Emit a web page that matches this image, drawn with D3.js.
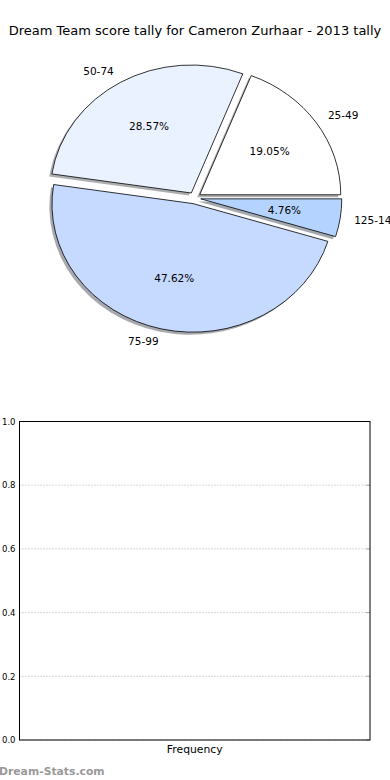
<!DOCTYPE html>
<html lang="en">
<head>
    <meta charset="UTF-8">
    <title>Dream Team score tally</title>
    <script src="https://d3js.org/d3.v7.min.js"></script>
    <style>
        body { margin: 0; background: #fff; }
        svg text { font-family: "DejaVu Sans", sans-serif; fill: #000; }
        .grid line { stroke: #b0b0b0; stroke-dasharray: 1,2; }
    </style>
</head>
<body>
    <svg width="390" height="780"></svg>

    <script>
        // score ranges, counts (share of games) and slice colours
        const ranges = ["25-49", "50-74", "75-99", "125-149"];
        const counts = [4, 6, 10, 1];
        const colours = ["#ffffff", "#ebf2ff", "#c6d9ff", "#b4d4ff"];
        const yTicks = [0.0, 0.2, 0.4, 0.6, 0.8, 1.0];

        const svg = d3.select("svg");

        svg.append("text")
            .attr("x", 195).attr("y", 35)
            .attr("text-anchor", "middle")
            .style("font-size", "13px")
            .text("Dream Team score tally for Cameron Zurhaar - 2013 tally");

        // pie: starts at 3 o'clock and runs counter-clockwise, like matplotlib
        const cx = 194.5, cy = 198, rx = 141, ry = 128, explode = 0.045;
        const total = d3.sum(counts);
        const pie = d3.pie().sort(null)
            .startAngle(Math.PI / 2).endAngle(Math.PI / 2 - 2 * Math.PI);
        const arcs = pie(counts);
        const arc = d3.arc().innerRadius(0).outerRadius(1);

        const offs = arcs.map(a => {
            const m = (a.startAngle + a.endAngle) / 2;
            return { m, x: cx + explode * rx * Math.sin(m), y: cy - explode * ry * Math.cos(m) };
        });

        const g = svg.append("g");
        // shadows first
        g.selectAll(".shadow").data(arcs).enter().append("path")
            .attr("transform", (d, i) => `translate(${offs[i].x - 2.6},${offs[i].y + 2.6}) scale(${rx},${ry})`)
            .attr("d", arc)
            .attr("fill", (d, i) => {
                const c = d3.rgb(colours[i]);
                return `rgba(${c.r * 0.3},${c.g * 0.3},${c.b * 0.3},0.45)`;
            });

        g.selectAll(".wedge").data(arcs).enter().append("path")
            .attr("transform", (d, i) => `translate(${offs[i].x},${offs[i].y}) scale(${rx},${ry})`)
            .attr("d", arc)
            .attr("fill", (d, i) => colours[i])
            .attr("stroke", "#000")
            .attr("stroke-width", 0.8)
            .attr("vector-effect", "non-scaling-stroke");

        // range labels at 1.1 radius
        g.selectAll(".lbl").data(arcs).enter().append("text")
            .attr("x", (d, i) => offs[i].x + 1.1 * rx * Math.sin(offs[i].m))
            .attr("y", (d, i) => offs[i].y - 1.1 * ry * Math.cos(offs[i].m))
            .attr("dy", "0.35em")
            .attr("text-anchor", (d, i) => Math.sin(offs[i].m) > 0 ? "start" : "end")
            .style("font-size", "10.5px")
            .text((d, i) => ranges[i]);

        // percentages at 0.6 radius
        g.selectAll(".pct").data(arcs).enter().append("text")
            .attr("x", (d, i) => offs[i].x + 0.6 * rx * Math.sin(offs[i].m))
            .attr("y", (d, i) => offs[i].y - 0.6 * ry * Math.cos(offs[i].m))
            .attr("dy", "0.35em")
            .attr("text-anchor", "middle")
            .style("font-size", "10.5px")
            .text(d => (100 * d.value / total).toFixed(2) + "%");

        // empty frequency plot below
        const plotL = 19.5, plotR = 370, plotT = 421.5, plotB = 740;
        const y = d3.scaleLinear().domain([0, 1]).range([plotB, plotT]);

        const grid = svg.append("g").attr("class", "grid");
        grid.selectAll("line").data(yTicks).enter().append("line")
            .attr("x1", plotL).attr("x2", plotR)
            .attr("y1", d => y(d)).attr("y2", d => y(d));

        const yAxis = svg.append("g")
            .attr("transform", `translate(${plotL},0)`)
            .call(d3.axisLeft(y).tickValues(yTicks).tickFormat(d3.format(".1f")).tickSize(0).tickPadding(4));
        yAxis.select(".domain").remove();
        yAxis.selectAll("text").style("font-size", "8.5px").style("font-family", "DejaVu Sans, sans-serif");

        // small grey ticks at right edge
        svg.append("g").selectAll("line").data(yTicks).enter().append("line")
            .attr("x1", plotR - 4).attr("x2", plotR)
            .attr("y1", d => y(d)).attr("y2", d => y(d))
            .attr("stroke", "#aaa");

        svg.append("rect")
            .attr("x", plotL).attr("y", plotT)
            .attr("width", plotR - plotL).attr("height", plotB - plotT)
            .attr("fill", "none").attr("stroke", "#000").attr("stroke-width", 1);

        svg.append("text")
            .attr("x", (plotL + plotR) / 2).attr("y", 753)
            .attr("text-anchor", "middle")
            .style("font-size", "10.8px")
            .text("Frequency");

        svg.append("text")
            .attr("x", -1).attr("y", 775)
            .style("font-size", "10.8px")
            .style("font-weight", "bold")
            .style("fill", "#999")
            .text("Dream-Stats.com");
    </script>
</body>
</html>
